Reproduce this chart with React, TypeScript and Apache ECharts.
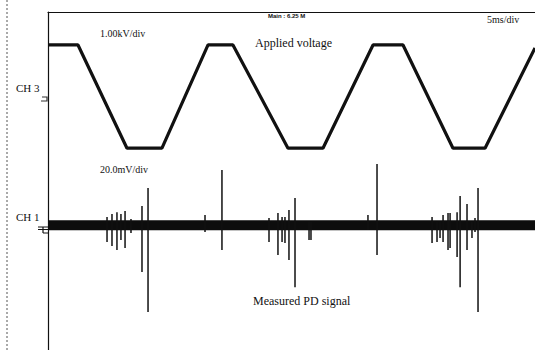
import React, { useEffect, useRef } from "react";
import * as echarts from "echarts";

// Time axis: 5 ms/div, 10 divisions
const timeRange = [0, 50];

// CH3 applied voltage (kV), trapezoid vertices [ms, kV]
const voltageTime = [0, 3.08, 8.11, 11.7, 16.43, 18.99, 24.64, 28.23, 33.37, 36.45, 41.58, 44.87, 50];
const voltageKV = [1.13, 1.13, -0.99, -0.99, 1.13, 1.13, -0.99, -0.99, 1.13, 1.13, -0.99, -0.99, 1.07];

// CH1 PD noise band edges (mV)
const noiseBand = [2.4, -1.7];

// CH1 PD pulses: time (ms), positive peak (mV), negative peak (mV)
const pulseTime = [6.06, 6.57, 7.08, 7.49, 7.91, 8.52, 9.65, 10.27, 16.12, 17.86, 22.69, 23.61, 24.03, 24.33, 24.74, 25.36, 26.8, 27.0, 32.85, 33.78, 39.43, 39.94, 40.25, 40.56, 41.07, 41.28, 42.0, 42.31, 43.02, 43.53, 43.84, 44.15];
const pulseHigh = [3.7, 4.9, 5.7, 4.9, 6.2, 2.9, 8.2, 15.6, 4.5, 23.0, 3.3, 5.3, 3.7, 3.7, 6.6, 11.5, 1.6, 1.6, 4.5, 25.5, 3.7, 1.6, 1.6, 4.5, 5.3, 5.3, 5.7, 12.3, 9.0, 1.6, 3.3, 15.6];
const pulseLow = [-6.6, -8.2, -9.9, -5.7, -9.0, -2.9, -18.9, -35.3, -2.5, -9.9, -6.6, -11.9, -6.6, -7.0, -14.0, -25.1, -5.7, -5.7, -1.6, -11.9, -7.0, -6.6, -4.9, -6.6, -9.9, -9.0, -12.7, -25.1, -9.9, -4.9, -2.5, -35.3];

export default function App() {
  const ref = useRef<HTMLDivElement>(null);

  useEffect(() => {
    if (!ref.current) return;
    const chart = echarts.init(ref.current, null, { renderer: "svg" });

    const voltageData = voltageTime.map((t, i) => [t, voltageKV[i]]);
    const pulseData = pulseTime.map((t, i) => [t, pulseHigh[i], pulseLow[i]]);

    const serif = "Liberation Serif";

    chart.setOption({
      animation: false,
      backgroundColor: "#ffffff",
      grid: { left: 48, right: 0, top: 12, bottom: 0 },
      xAxis: {
        type: "value",
        min: timeRange[0],
        max: timeRange[1],
        position: "top",
        axisLine: { show: true, onZero: false, lineStyle: { color: "#111", width: 1.2 } },
        axisTick: { show: false },
        axisLabel: { show: false },
        splitLine: { show: false },
      },
      yAxis: [
        {
          type: "value",
          min: -5.133,
          max: 1.807,
          axisLine: { show: true, onZero: false, lineStyle: { color: "#111", width: 1.2 } },
          axisTick: { show: false },
          axisLabel: { show: false },
          splitLine: { show: false },
        },
        {
          type: "value",
          min: -50.92,
          max: 87.89,
          show: false,
          splitLine: { show: false },
        },
      ],
      series: [
        {
          name: "Applied voltage",
          type: "line",
          yAxisIndex: 0,
          data: voltageData,
          symbol: "none",
          lineStyle: { color: "#111", width: 3.2 },
        },
        {
          name: "Measured PD signal",
          type: "line",
          yAxisIndex: 1,
          data: [[timeRange[0], 0], [timeRange[1], 0]],
          symbol: "none",
          lineStyle: { width: 0 },
          markArea: {
            silent: true,
            itemStyle: { color: "#0d0d0d" },
            data: [[{ yAxis: noiseBand[0] }, { yAxis: noiseBand[1] }]],
          },
        },
        {
          name: "PD pulses",
          type: "custom",
          yAxisIndex: 1,
          data: pulseData,
          encode: { x: 0, y: [1, 2] },
          renderItem: (params: any, api: any) => {
            const t = api.value(0);
            const p1 = api.coord([t, api.value(1)]);
            const p2 = api.coord([t, api.value(2)]);
            return {
              type: "line",
              shape: { x1: p1[0], y1: p1[1], x2: p2[0], y2: p2[1] },
              style: { stroke: "#111", lineWidth: 1.5 },
            };
          },
        },
      ],
      graphic: [
        {
          type: "line",
          shape: { x1: 7, y1: 0, x2: 7, y2: 350 },
          style: { stroke: "#555", lineWidth: 1, lineDash: [2, 2] },
        },
        { type: "text", left: 100, top: 28, style: { text: "1.00kV/div", font: `10px ${serif}`, fill: "#111" } },
        { type: "text", left: 255, top: 37, style: { text: "Applied voltage", font: `12px ${serif}`, fill: "#111" } },
        { type: "text", left: 268, top: 13, style: { text: "Main : 6.25 M", font: `bold 6px Liberation Sans`, fill: "#111" } },
        { type: "text", left: 487, top: 14, style: { text: "5ms/div", font: `10px ${serif}`, fill: "#111" } },
        { type: "text", left: 16, top: 82, style: { text: "CH 3", font: `11px ${serif}`, fill: "#111" } },
        { type: "text", left: 100, top: 164, style: { text: "20.0mV/div", font: `10px ${serif}`, fill: "#111" } },
        { type: "text", left: 16, top: 211, style: { text: "CH 1", font: `11px ${serif}`, fill: "#111" } },
        { type: "text", left: 253, top: 295, style: { text: "Measured PD signal", font: `12px ${serif}`, fill: "#111" } },
        {
          type: "polyline",
          shape: { points: [[42, 97], [47, 97], [47, 101], [41, 101]] },
          style: { stroke: "#333", lineWidth: 1.2, fill: "none" },
        },
        {
          type: "group",
          children: [
            { type: "line", shape: { x1: 38, y1: 227, x2: 48, y2: 227 }, style: { stroke: "#111", lineWidth: 1 } },
            { type: "line", shape: { x1: 38, y1: 229.5, x2: 48, y2: 229.5 }, style: { stroke: "#111", lineWidth: 1 } },
            { type: "line", shape: { x1: 43, y1: 227, x2: 43, y2: 233 }, style: { stroke: "#111", lineWidth: 1.2 } },
            { type: "line", shape: { x1: 43, y1: 233, x2: 48, y2: 233 }, style: { stroke: "#111", lineWidth: 1 } },
          ],
        },
      ],
    });

    return () => chart.dispose();
  }, []);

  return <div ref={ref} style={{ position: "fixed", left: 0, top: 0, width: 535, height: 350 }} />;
}
